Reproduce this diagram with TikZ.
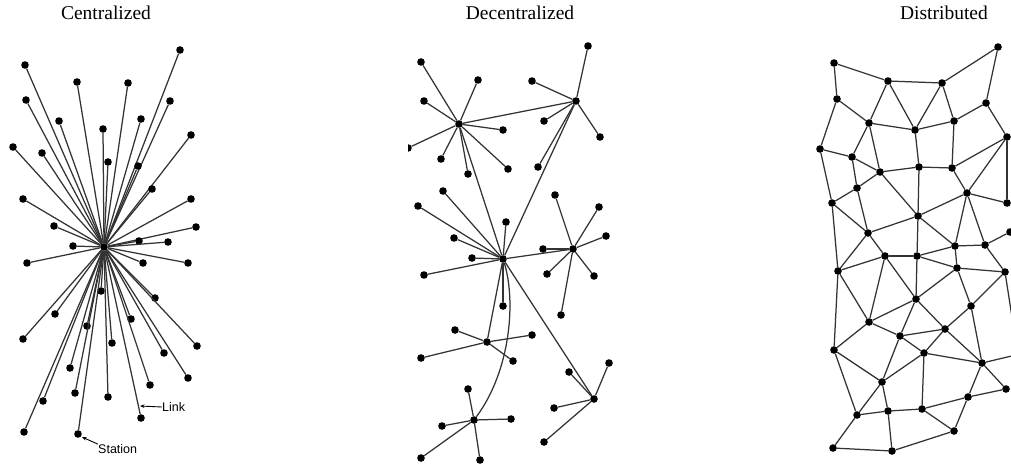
\documentclass[tikz,border=0pt]{standalone}
\usepackage{fontspec}
\setmainfont{Liberation Serif}
\newfontfamily\labelfont{Liberation Sans}
\usetikzlibrary{arrows.meta}
\begin{document}
\begin{tikzpicture}[x=1pt,y=-1pt,
  dot/.style={circle,fill=black,inner sep=0pt,minimum size=7.6pt},
  link/.style={draw=black!80,line width=1.25pt},
  ptr/.style={draw=black,line width=0.9pt,-{Stealth[length=4.5pt,width=3.5pt]}},
  title/.style={font=\fontsize{19.5}{19.5}\selectfont,anchor=base,inner sep=0pt},
  lbl/.style={font=\labelfont\fontsize{12.5}{12.5}\selectfont,anchor=west,inner sep=0pt}]
\useasboundingbox (0,0) rectangle (1011,464);
\clip (0,0) rectangle (1011,464);

% titles
\node[title] (t1) at (106,19) {Centralized};
\node[title] (t2) at (520,19) {Decentralized};
\node[title] (t3) at (944,19) {Distributed};

% ---------- Centralized ----------
\node[dot] (c0) at (104,247) {};
\foreach \x/\y [count=\i] in {180/50,25/65,77/82,128/83,26/100,170/101,59/121,141/119,103/129,191/135,
  13/147,42/153,108/162,138/166,152/189,23/199,191/199,54/226,196/227,139/241,168/242,73/246,
  27/263,143/263,188/263,101/291,155/298,55/314,87/326,131/319,23/339,197/346,112/343,164/353,
  70/368,188/378,150/385,75/393,108/397,43/401,141/418,24/432,78/434}
{ \node[dot] (c\i) at (\x,\y) {}; \draw[link] (c0) -- (c\i); }
\node[lbl] (link) at (162,407) {Link};
\coordinate (linktip) at (140,406);
\draw[ptr] (link.west) -- (linktip);
\node[lbl] (station) at (98,449) {Station};
\coordinate (sttip) at (82,437);
\draw[ptr] (station.north west) -- (sttip);

% ---------- Decentralized ----------
\node[dot] (h1) at (459,124) {};
\node[dot] (h2) at (576,101) {};
\node[dot] (h3) at (503,259) {};
\node[dot] (h4) at (573,249) {};
\node[dot] (h5) at (487,342) {};
\node[dot] (h6) at (594,399) {};
\node[dot] (h7) at (474,420) {};
\draw[link] (h1) -- (h2);
\draw[link] (h1) -- (h3);
\draw[link] (h2) -- (h3);
\draw[link] (h3) -- (h4);
\draw[link] (h3) -- (h5);
\draw[link] (h3) -- (h6);
\draw[link] (h3) .. controls (516,300) and (511,370) .. (h7);
\foreach \x/\y [count=\i] in {421/62,478/80,424/101,503/130,441/159,508/169,468/174}
{ \node[dot] (pa\i) at (\x,\y) {}; \draw[link] (h1) -- (pa\i); }
\begin{scope}
  \clip (408,138) rectangle (420,158);
  \node[dot] (half) at (408,148) {};
\end{scope}
\draw[link] (h1) -- (half);
\foreach \x/\y [count=\i] in {588/46,532/81,544/121,600/137,538/167}
{ \node[dot] (pb\i) at (\x,\y) {}; \draw[link] (h2) -- (pb\i); }
\foreach \x/\y [count=\i] in {443/191,418/206,506/222,454/238,472/258,424/275,503/306}
{ \node[dot] (pc\i) at (\x,\y) {}; \draw[link] (h3) -- (pc\i); }
\foreach \x/\y [count=\i] in {606/236,543/249,547/274,594/276,561/315,555/195,599/207}
{ \node[dot] (pd\i) at (\x,\y) {}; \draw[link] (h4) -- (pd\i); }
\foreach \x/\y [count=\i] in {455/330,532/335,421/358,513/361}
{ \node[dot] (pe\i) at (\x,\y) {}; \draw[link] (h5) -- (pe\i); }
\foreach \x/\y [count=\i] in {609/363,569/372,554/408,544/442}
{ \node[dot] (pf\i) at (\x,\y) {}; \draw[link] (h6) -- (pf\i); }
\foreach \x/\y [count=\i] in {468/389,511/419,442/426,421/458,480/460}
{ \node[dot] (pg\i) at (\x,\y) {}; \draw[link] (h7) -- (pg\i); }

% ---------- Distributed ----------
\foreach \x/\y [count=\i] in {998/47,834/63,888/81,942/83,837/99,986/103,869/123,954/121,915/130,1007/137,
  820/149,852/157,880/172,919/167,952/168,857/188,967/193,832/203,1007/203,918/216,
  868/233,955/246,985/245,885/256,917/256,838/271,957/268,1005/272,1010/232,916/299,
  971/306,869/322,945/329,900/336,834/350,924/353,982/363,882/382,1006/389,968/397,
  857/415,888/411,922/409,954/431,833/448,892/451}
{ \node[dot] (d\i) at (\x,\y) {}; }
\foreach \a/\b in {2/3,2/5,3/4,4/1,1/6,3/7,3/9,4/9,4/8,5/7,5/11,6/8,6/10,7/9,9/8,7/12,7/13,9/14,8/15,
  11/12,11/18,12/13,12/16,13/14,13/16,13/20,14/15,14/20,15/10,15/17,10/17,10/19,17/19,17/20,17/22,17/23,
  16/18,16/21,18/21,18/26,20/21,20/25,20/22,21/24,21/26,22/23,22/25,22/27,23/28,23/29,24/25,24/26,
  24/32,24/30,25/27,25/30,26/32,26/35,27/28,27/30,27/31,28/31,30/32,30/34,30/33,31/33,31/37,32/34,
  32/35,33/34,33/36,33/37,34/36,34/38,35/38,35/41,36/37,36/38,36/43,37/40,37/39,38/41,38/42,41/42,
  41/45,42/43,42/46,43/40,43/44,40/44,40/39,44/46,45/46}
{ \draw[link] (d\a) -- (d\b); }
\coordinate (e1) at (1014,330);
\coordinate (e2) at (1020,354);
\draw[link] (d28) -- (e1);
\draw[link] (d37) -- (e2);
\end{tikzpicture}
\end{document}
